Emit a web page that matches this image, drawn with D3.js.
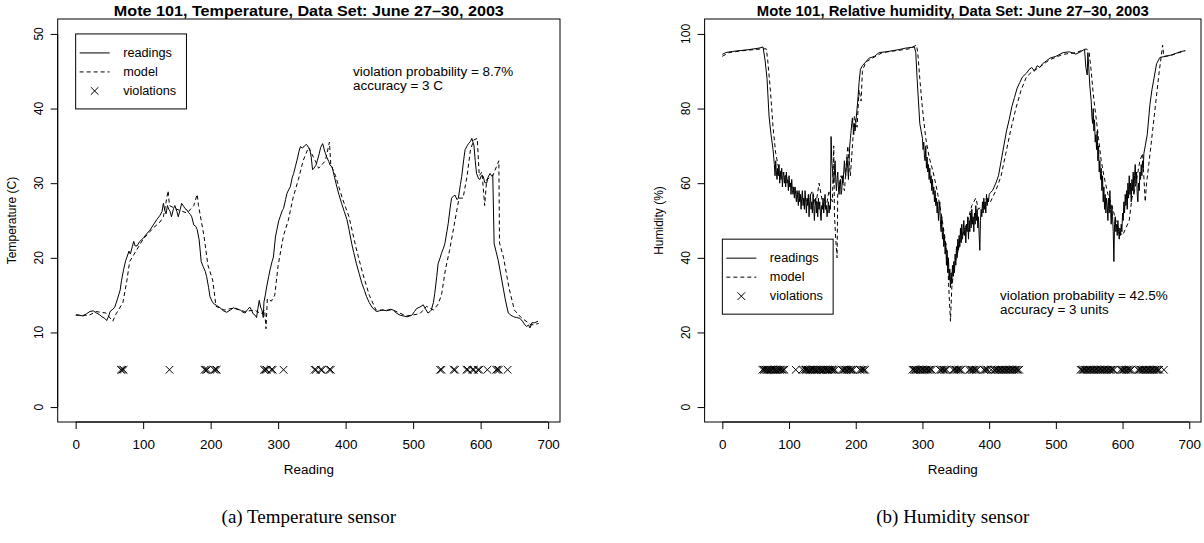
<!DOCTYPE html>
<html><head><meta charset="utf-8">
<script src="https://cdn.jsdelivr.net/npm/d3@7"></script>
<style>body{margin:0;background:#fff}svg{display:block}</style>
</head><body>
<svg id="c" width="1204" height="543"></svg>
<script>
// ---------- DATA ----------
const xTicks = [0,100,200,300,400,500,600,700];
const tempTicks = [0,10,20,30,40,50];
const humTicks = [0,20,40,60,80,100];

// Temperature readings [reading, °C]
const tempReadings = [[1,12.4],[6,12.3],[11,12.2],[16,12.5],[21,12.8],[26,12.9],[31,12.6],[35,12.4],[39,12.1],[43,11.9],[46,11.6],[49,12.2],[51,12.8],[55,13.1],[58,13.4],[62,14.5],[66,15.7],[68,17],[71,18.4],[74,19.6],[76,20.1],[79,20.9],[81,20.5],[84,21.5],[86,22.2],[88,21.6],[91,21.6],[95,22.2],[100,22.6],[105,23.2],[110,23.7],[115,24.4],[120,25.1],[125,25.7],[128,26.2],[130,27.3],[132,26.4],[134,25.9],[136,27],[138,26.5],[140,26.2],[142,25.5],[145,26.6],[147,27],[150,26.2],[152,25.5],[155,26.5],[157,27.3],[160,26.9],[162,26.6],[165,26.4],[167,26.1],[170,25.8],[172,25.5],[175,24.4],[178,24.2],[180,23.8],[183,22.4],[186,19.5],[189,18.8],[192,18.2],[194,17.5],[197,16],[199,14.8],[202,14.2],[204,13.9],[209,13.6],[214,13.3],[219,12.9],[224,12.7],[229,13],[234,13.3],[239,13.1],[244,13],[248,12.7],[251,12.6],[255,13.1],[258,13.4],[261,12.9],[263,12.5],[266,12.3],[268,12],[270,13.2],[272,14.3],[274,13.4],[276,13],[278,12],[279,14.1],[281,15],[283,16.1],[286,17.5],[288,18.4],[291,19.5],[293,20.1],[296,22.8],[298,23.7],[301,25],[303,25.5],[306,26.3],[308,26.6],[311,27.8],[313,28.6],[316,29.2],[318,29.5],[321,30.8],[323,31.3],[326,32.4],[328,33.1],[331,34.3],[333,34.9],[336,34.7],[339,35],[342,35.2],[345,34.8],[347,34.5],[349,33.5],[351,31.8],[353,32],[356,32.4],[358,33],[361,34],[363,34.8],[366,35.3],[368,34.6],[370,34],[372,33.5],[375,32.9],[377,32.4],[380,32.2],[383,31],[387,29.5],[390,28.5],[394,27.3],[398,26.2],[402,25.1],[405,23.8],[409,21.9],[412,20.7],[416,19.2],[420,17.9],[424,16.6],[428,15.6],[431,14.8],[435,14],[439,13.4],[443,13],[446,12.8],[450,12.9],[455,13],[461,12.9],[466,13.1],[471,13],[475,12.6],[481,12.3],[486,12.2],[491,12.1],[495,12.2],[498,12.3],[502,12.8],[505,13.2],[510,13.4],[515,13.7],[518,13.2],[522,12.6],[525,12.8],[527,13],[530,14],[532,15.2],[535,17.5],[537,19.2],[540,20],[542,20.6],[545,21.3],[547,21.9],[550,23.5],[552,24.6],[555,26.8],[557,28],[560,28.3],[562,28.4],[565,27.8],[567,28],[570,29.8],[572,30.9],[575,33.2],[577,34.5],[580,35],[582,35.3],[585,35.6],[587,36],[589,35.4],[590,35.1],[592,33],[594,31.3],[597,30.6],[599,30.5],[601,31],[604,30.9],[606,30.1],[609,30],[611,30.8],[614,31.3],[616,31],[618,31.1],[620,21.9],[623,20.8],[626,19.7],[630,17.7],[634,15.7],[637,14.2],[641,12.6],[645,12.3],[649,12.1],[653,12],[658,11.9],[662,11.5],[665,11.1],[668,10.8],[671,11],[673,10.6],[676,11.3],[680,11.3],[685,11.5]];

// Temperature model (dashed) [reading, °C]
const tempModel = [[0,12.3],[20,12.3],[30,12.8],[45,12.6],[55,11.5],[60,12.5],[70,14],[76,17],[80,19.5],[90,21],[100,22.5],[110,23.5],[115,24],[125,24.8],[130,25.5],[137,29],[139,27],[150,26.5],[165,26],[175,27],[180,28.5],[182,27],[190,23],[196,19],[203,17],[208,13.5],[220,13],[235,13.3],[250,12.8],[265,13],[275,12.5],[280,13],[282,10.5],[284,14.5],[290,14.2],[295,15],[300,19],[308,23],[315,25],[322,28],[330,30.5],[337,33],[345,34.8],[355,33],[360,32],[370,33],[376,35.5],[378,32.5],[385,31],[395,28],[405,25.5],[415,21.5],[425,18],[435,15],[445,13],[470,13],[490,12.2],[510,12.5],[520,13.5],[530,13],[537,13.8],[542,15],[548,18.5],[554,21],[560,24],[568,28],[574,28],[580,31],[585,34.5],[590,35.8],[595,36],[598,31],[602,31.5],[606,27],[609,30.5],[618,31],[627,33],[628,22],[634,20],[642,16],[650,13],[660,12],[675,11],[686,11.2]];

// Temperature violations (reading index); drawn at 5 °C
const tempViolations = [67,69,71,139,191,193,195,205,207,209,279,281,283,290,292,308,354,356,363,365,376,378,540,542,560,562,579,581,588,590,596,598,610,623,625,627,640];
const tempViolationLevel = 5;

// Humidity readings [reading, %]
const humReadings = [[0,94.5],[5,95],[15,95.3],[25,95.5],[40,95.8],[55,96.2],[61,96.5],[64,93],[67,88],[70,78],[73,73],[76,69],
[78,65],[79,62],[80,66],[81,63],[82,61],[83,64],[84,62],[85,65],[86,60],[87,63],[88,61],[89,64],[90,59],[91,62],[92,63],[93,60],[94,62],[95,59],[96,63],[97,60],[98,61],[99,58],[100,62],[101,59],[102,60],[103,57],[104,61],[105,58],[106,57],[107,59],[108,56],[109,59],[110,57],[111,55],[112,58],[113,56],[114,54],[115,58],[116,55],[117,57],[118,53],[119,56],[120,58],[121,54],[122,56],[123,53],[124,58],[125,55],[126,52],[127,56],[128,54],[129,57],[130,51],[131,55],[132,57],[133,53],[134,55],[135,52],[136,57],[137,54],[138,50],[139,54],[140,56],[141,52],[142,55],[143,51],[144,56],[145,53],[146,55],[147,52],[148,50],[149,54],[150,53],[151,56],[152,52],[153,55],[154,57],[155,53],[156,54],[157,51],[158,53],[159,55],[160,52],[161,54],[162,53],
[163,72.5],[164,66],[165,64],[166,61],[167,60],[168,63],[169,66],[170,61],[171,58],[172,61],[173,63],[174,59],[175,57],[176,60],[177,61],[178,57],[179,58],[180,62],[181,60],[182,63],[183,66],[184,63],[185,62],[186,65],[187,67],[188,64],[189,61],[190,66],[191,70],[192,72],[193,74],[194,76],[195,77.5],[196,75],[197,73],[198,76],[199,74],[200,76],[201,78],[203,82],[205,87],[207,90.5],[210,91.5],[215,92.5],[220,93.5],[228,94],[235,95],[245,95.2],[255,95.5],[265,95.8],[275,96.2],[288,96.5],[290,95],[292,88],[294,82],[296,76],[298,74],
[300,72],[301,69],[302,71],[303,67],[304,66],[305,70],[306,64],[307,67],[308,63],[309,65],[310,61],[311,64],[312,60],[313,62],[314,58],[315,61],[316,57],[317,59],[318,55],[319,58],[320,54],[321,56],[322,52],[323,55],[324,50],[325,53],[326,55],[327,49],[328,47],[329,51],[330,45],[331,48],[332,43],[333,46],[334,41],[335,44],[336,38],[337,42],[338,36],[339,40],[340,34],[341,37],[342,32],[343,36],[344,33],[345,38],[346,35],[347,39],[348,36],[349,41],[350,38],[351,43],[352,40],[353,45],[354,42],[355,46],[356,43],[357,48],[358,44],[359,49],[360,45],[361,47],[362,50],[363,46],[364,48],[365,44],[366,49],[367,47],[368,51],[369,45],[370,50],[371,47],[372,52],[373,48],[374,53],[375,49],[376,51],[377,47],[378,52],[379,49],[380,54],[381,50],[382,53],[383,48],[384,51],[385,46],[386,42],[387,50],[388,53],[389,51],[390,55],[391,52],[392,56],[393,53],[394,55],[395,52],[396,57],[397,54],[398,56],[399,55],[400,57],
[402,57.5],[405,58],[410,60],[414,62],[418,66],[422,70],[426,74],[430,77],[434,80.5],[438,83],[442,85.5],[446,87],[450,88.5],[456,89.5],[460,90.5],[464,91],[468,90],[472,91.5],[476,91],[480,92],[486,92.8],[491,93.5],[500,94],[511,95],[520,95.2],[530,94.6],[538,95.3],[543,95.9],[545,91],[547,89],[548,95],[551,86],
[553,82],[554,78],[555,76],[556,80],[557,74],[558,77],[559,71],[560,73],[561,69],[562,74],[563,66],[564,70],[565,63],[566,66],[567,61],[568,64],[569,58],[570,62],[571,55],[572,59],[573,53],[574,57],[575,52],[576,56],[577,54],[578,50],[579,56],[580,52],[581,58],[582,53],[583,49],[584,54],[585,51],[586,47],[587,39],[588,49],[589,51],[590,47],[591,49],[592,46],[593,50],[594,47],[595,45],[596,48],[597,46],[598,49],[599,47],[600,52],[601,50],[602,55],[603,52],[604,57],[605,54],[606,58],[607,53],[608,60],[609,56],[610,62],[611,57],[612,60],[613,55],[614,61],[615,58],[616,63],[617,57],[618,62],[619,65],[620,60],[621,63],[622,57],[623,55],[624,60],[625,58],[626,63],[627,61],[628,65],[629,62],[630,66],[631,64],[632,68],
[634,70],[637,73],[641,81],[644,85],[647,88],[651,92],[656,93.7],[665,94],[672,94.3],[680,94.8],[688,95.3],[694,95.5]];

// Humidity model (dashed) [reading, %]
const humModel = [[0,94],[10,95],[30,95.5],[60,96],[66,96],[68,93],[72,85],[76,75],[80,68],[85,63.5],[95,62],[105,59],[115,57],[125,55],[130,56],[135,58],[140,54],[145,60],[150,55],[155,53],[160,58],[165,55],[167,70],[168,52],[170,45],[172,40],[173,57],[178,62],[183,58],[188,70],[192,62],[198,78],[202,75],[205,85],[208,82],[210,90],[215,92.5],[225,93.5],[240,95],[260,95.5],[280,96],[291,97],[293,95],[296,88],[300,80],[305,72],[310,67],[316,63],[322,58],[328,52],[334,45],[338,38],[340,30],[342,23],[344,32],[348,38],[355,43],[362,47],[368,50],[374,54],[380,56],[384,53],[390,54],[396,56],[402,55],[410,58],[418,62],[425,68],[432,74],[440,80],[448,85],[456,88.5],[465,90],[475,91],[490,93],[510,94.5],[530,95],[546,96],[550,95],[553,90],[556,84],[560,78],[564,72],[568,66],[572,62],[578,57],[584,54],[590,50],[595,47],[600,46],[605,48],[610,50],[614,56],[618,58],[622,62],[626,66],[630,68],[634,55],[636,60],[640,66],[645,74],[650,82],[655,90],[658,94],[660,97],[662,94],[672,94.2],[685,95],[694,95.5]];

// Humidity violations (reading index); drawn at 10 %
const humViolations = [60,62,63,65,67,68,70,72,73,75,77,79,80,82,84,86,87,89,91,93,110,120,123,125,126,128,130,132,133,135,137,139,140,142,144,146,148,149,151,153,155,157,158,160,162,164,165,167,169,179,181,183,185,187,189,191,193,194,196,206,208,210,212,214,
  285,287,289,290,292,294,296,298,300,302,304,306,308,310,312,314,326,328,330,332,334,336,346,348,350,352,354,356,358,370,372,374,376,378,380,382,392,394,396,398,403,
  407,409,411,413,415,417,419,421,423,425,427,429,431,433,435,437,439,441,443,445,
  537,539,541,543,545,547,549,551,553,555,557,559,561,563,565,567,569,571,573,575,577,579,581,583,585,587,597,599,601,603,605,607,609,611,613,623,625,627,629,631,633,635,637,639,641,643,645,647,649,651,653,655,662];
const humViolationLevel = 10;

const legendLabels = ["readings","model","violations"];

const panels = [
  {title:"Mote 101, Temperature, Data Set: June 27\u201330, 2003", ylab:"Temperature (C)", caption:"(a) Temperature sensor",
   readings:tempReadings, model:tempModel, viol:tempViolations, violLevel:tempViolationLevel, yTicks:tempTicks, yDomain:[-2,52],
   box:[57.7,560,19,422], legendAt:[0,50], note:["violation probability = 8.7%","accuracy = 3 C"], noteAt:[353,75.5]},
  {title:"Mote 101, Relative humidity, Data Set: June 27\u201330, 2003", ylab:"Humidity (%)", caption:"(b) Humidity sensor",
   readings:humReadings, model:humModel, viol:humViolations, violLevel:humViolationLevel, yTicks:humTicks, yDomain:[-4,104],
   box:[704.6,1201,19,422], legendAt:[0,45], note:["violation probability = 42.5%","accuracy = 3 units"], noteAt:[1000,299.5]}
];

// ---------- DRAW ----------
const svg = d3.select("#c");
const SANS = "'Liberation Sans', Arial, Helvetica, sans-serif";
const STRETCH = 1.12;   // horizontal widening of the reference's lettering

function stretch(sel, factor) {
  sel.each(function(){
    const w = this.getComputedTextLength();
    d3.select(this).attr("textLength", w*factor).attr("lengthAdjust","spacingAndGlyphs");
  });
  return sel;
}

panels.forEach(p => {
  const [L,R,T,B] = p.box;
  const x = d3.scaleLinear().domain([-26.6,717.6]).range([L,R]);
  const y = d3.scaleLinear().domain(p.yDomain).range([B,T]);
  const g = svg.append("g");

  // x axis
  const xa = g.append("g").attr("transform",`translate(0,${B})`)
    .call(d3.axisBottom(x).tickValues(xTicks).tickSize(7).tickPadding(11).tickSizeOuter(0));
  xa.select(".domain").attr("d",`M${x(0)},0H${x(700)}`);
  xa.selectAll("text").attr("font-family",SANS).attr("font-size",12).attr("fill","#000");
  stretch(xa.selectAll("text"), STRETCH);

  // y axis (labels drawn rotated, parallel to the axis)
  const ya = g.append("g").attr("transform",`translate(${L},0)`)
    .call(d3.axisLeft(y).tickValues(p.yTicks).tickSize(7).tickSizeOuter(0).tickFormat(""));
  ya.select(".domain").attr("d",`M0,${y(p.yTicks[0])}V${y(p.yTicks[p.yTicks.length-1])}`);
  g.append("g").selectAll("text").data(p.yTicks).join("text")
    .attr("transform",d=>`translate(${L-15},${y(d)}) rotate(-90)`)
    .attr("text-anchor","middle").attr("font-family",SANS).attr("font-size",12).text(d=>d);

  // box
  g.append("rect").attr("x",L).attr("y",T).attr("width",R-L).attr("height",B-T)
    .attr("fill","none").attr("stroke","#000").attr("stroke-width",1);

  // title
  g.append("text").attr("x",(L+R)/2).attr("y",15.5).attr("text-anchor","middle")
    .attr("font-family",SANS).attr("font-weight","bold").attr("font-size",14)
    .attr("textLength",p===panels[0]?390:392).attr("lengthAdjust","spacingAndGlyphs").text(p.title);
  // axis labels
  stretch(g.append("text").attr("x",(L+R)/2).attr("y",474).attr("text-anchor","middle")
    .attr("font-family",SANS).attr("font-size",12).text("Reading"), STRETCH);
  g.append("text").attr("transform",`translate(${L-42},${(T+B)/2}) rotate(-90)`).attr("text-anchor","middle")
    .attr("font-family",SANS).attr("font-size",12).text(p.ylab);
  // caption
  g.append("text").attr("x",(L+R)/2).attr("y",523).attr("text-anchor","middle")
    .attr("font-family","'Liberation Serif','DejaVu Serif',serif").attr("font-size",19).text(p.caption);

  // lines
  const line = d3.line().x(d=>x(d[0])).y(d=>y(d[1]));
  g.append("path").datum(p.model).attr("d",line).attr("fill","none").attr("stroke","#000")
    .attr("stroke-width",1).attr("stroke-dasharray","4,3");
  g.append("path").datum(p.readings).attr("d",line).attr("fill","none").attr("stroke","#000")
    .attr("stroke-width",1).attr("stroke-linejoin","round");

  // violations
  const xs = 3.8;
  g.append("g").selectAll("path").data(p.viol).join("path")
    .attr("transform",d=>`translate(${x(d)},${y(p.violLevel)})`)
    .attr("d",`M${-xs},${-xs}L${xs},${xs}M${-xs},${xs}L${xs},${-xs}`)
    .attr("stroke","#000").attr("stroke-width",1).attr("fill","none");

  // legend
  const lx = x(p.legendAt[0]), ly = y(p.legendAt[1]);
  const lg = g.append("g").attr("transform",`translate(${lx},${ly})`);
  lg.append("rect").attr("width",110.8).attr("height",75).attr("fill","#fff").attr("stroke","#000").attr("stroke-width",1);
  legendLabels.forEach((t,i) => {
    const cy = 19 + i*19;
    if (i===0) lg.append("line").attr("x1",4).attr("x2",34).attr("y1",cy).attr("y2",cy).attr("stroke","#000");
    if (i===1) lg.append("line").attr("x1",4).attr("x2",34).attr("y1",cy).attr("y2",cy).attr("stroke","#000").attr("stroke-dasharray","4,3");
    if (i===2) lg.append("path").attr("transform",`translate(19,${cy})`)
      .attr("d",`M${-xs},${-xs}L${xs},${xs}M${-xs},${xs}L${xs},${-xs}`).attr("stroke","#000").attr("fill","none");
    stretch(lg.append("text").attr("x",47.5).attr("y",cy+4.2).attr("font-family",SANS).attr("font-size",12).text(t), 1.06);
  });

  // annotation
  p.note.forEach((t,i) => {
    stretch(g.append("text").attr("x",p.noteAt[0]).attr("y",p.noteAt[1]+i*14.5)
      .attr("font-family",SANS).attr("font-size",12).text(t), STRETCH);
  });
});
</script>
</body></html>
